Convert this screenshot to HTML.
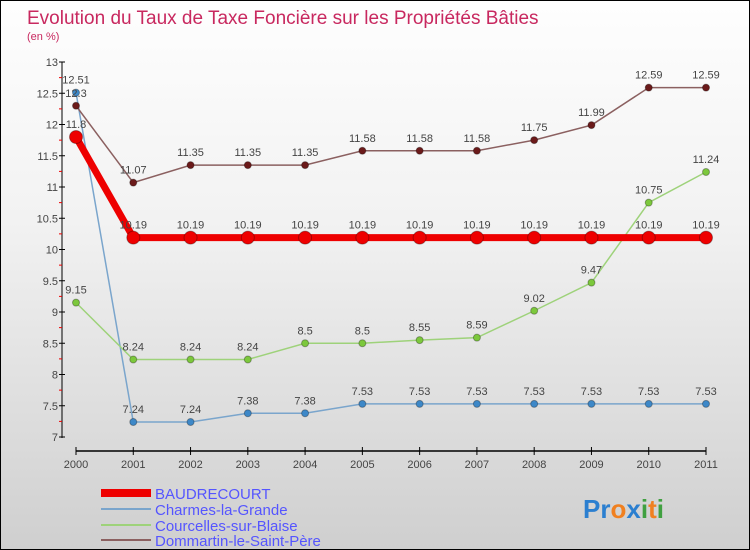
<!DOCTYPE html>
<html><head><meta charset="utf-8"><style>
body{margin:0}
#c{width:748px;height:548px;border:1px solid #000;background:linear-gradient(#fefefe,#f2f2f2 40%,#cfcfcf);position:relative;font-family:"Liberation Sans",sans-serif}
</style></head><body>
<div id="c">
<svg id="s" width="748" height="548" style="position:absolute;left:0;top:0" font-family="Liberation Sans, sans-serif">
<text x="26" y="23" font-size="19" fill="#c8285f">Evolution du Taux de Taxe Foncière sur les Propriétés Bâties</text>
<text x="26" y="39" font-size="11" fill="#c8285f">(en %)</text>
<g id="axes"></g><g id="series"></g>
<g>
<rect x="100" y="488" width="50" height="8" fill="#e00"/>
<text x="154" y="498" font-size="15" fill="#5555ff">BAUDRECOURT</text>
<rect x="100" y="507" width="50" height="2" fill="#7aa5cc"/>
<text x="154" y="514" font-size="15" fill="#5555ff">Charmes-la-Grande</text>
<rect x="100" y="523" width="50" height="2" fill="#9ed27a"/>
<text x="154" y="530" font-size="15" fill="#5555ff">Courcelles-sur-Blaise</text>
<rect x="100" y="538" width="50" height="2" fill="#8b6060"/>
<text x="154" y="545" font-size="15" fill="#5555ff">Dommartin-le-Saint-Père</text>
</g>
<text x="582" y="517" font-size="26" font-weight="bold"><tspan fill="#2b7fd0">Pr</tspan><tspan fill="#f08020">o</tspan><tspan fill="#2b7fd0">x</tspan><tspan fill="#40a040">i</tspan><tspan fill="#f08020">t</tspan><tspan fill="#40a040">i</tspan></text>
</svg></div>
<script>
const years=[2000,2001,2002,2003,2004,2005,2006,2007,2008,2009,2010,2011];
const baud=[11.8,10.19,10.19,10.19,10.19,10.19,10.19,10.19,10.19,10.19,10.19,10.19];
const charmes=[12.51,7.24,7.24,7.38,7.38,7.53,7.53,7.53,7.53,7.53,7.53,7.53];
const courc=[9.15,8.24,8.24,8.24,8.5,8.5,8.55,8.59,9.02,9.47,10.75,11.24];
const domm=[12.3,11.07,11.35,11.35,11.35,11.58,11.58,11.58,11.75,11.99,12.59,12.59];
const yTicks=[7,7.5,8,8.5,9,9.5,10,10.5,11,11.5,12,12.5,13];
const NS="http://www.w3.org/2000/svg";
const X=i=>75+i*(630/11), Y=v=>61+(13-v)*62.5;
function mk(p,t,a){const e=document.createElementNS(NS,t);for(const k in a)e.setAttribute(k,a[k]);p.appendChild(e);return e;}
const ax=document.getElementById('axes'), se=document.getElementById('series');
let l=mk(ax,'line',{x1:61,y1:61,x2:61,y2:437,stroke:'#000'});


l=mk(ax,'line',{x1:75,y1:450,x2:705,y2:450,stroke:'#000','stroke-width':1.5});


yTicks.forEach(v=>{
 mk(ax,'line',{x1:58,x2:64,y1:Y(v),y2:Y(v),stroke:'#000'});
 if(v<13) mk(ax,'line',{x1:58,x2:61,y1:Y(v+0.25),y2:Y(v+0.25),stroke:'#e00'});
 const t=mk(ax,'text',{x:57,y:Y(v)+4,'font-size':11,fill:'#444','text-anchor':'end'});
 t.textContent=v;
 
 
});
years.forEach((yr,i)=>{
 mk(ax,'line',{x1:X(i),x2:X(i),y1:446,y2:454,stroke:'#000'});
 const t=mk(ax,'text',{x:X(i),y:467,'font-size':11,fill:'#444','text-anchor':'middle'});
 t.textContent=yr;
 
 
});
function series(d,col,fill,w,r,name){
 const g=mk(se,'g',{});
 
 
 mk(g,'polyline',{points:d.map((v,i)=>X(i)+','+Y(v)).join(' '),fill:'none',stroke:col,'stroke-width':w});
 d.forEach((v,i)=>{
  const c=mk(g,'circle',{cx:X(i),cy:Y(v),r:r,fill:fill,stroke:'rgba(0,0,0,0.3)'});
  
  
  const t=mk(g,'text',{x:X(i),y:Y(v)-9,'font-size':11,fill:'#444','text-anchor':'middle'});
  t.textContent=v;
  
  
 });
}
series(charmes,'#7aa5cc','#3d88c8',1.5,3.5,'charmes');
series(courc,'#9ed27a','#7cc83c',1.5,3.5,'courcelles');
series(domm,'#8b6060','#6b1a1a',1.5,3.5,'dommartin');
series(baud,'#ee0000','#ee0000',7,6.5,'baudrecourt');
</script>
</body></html>
